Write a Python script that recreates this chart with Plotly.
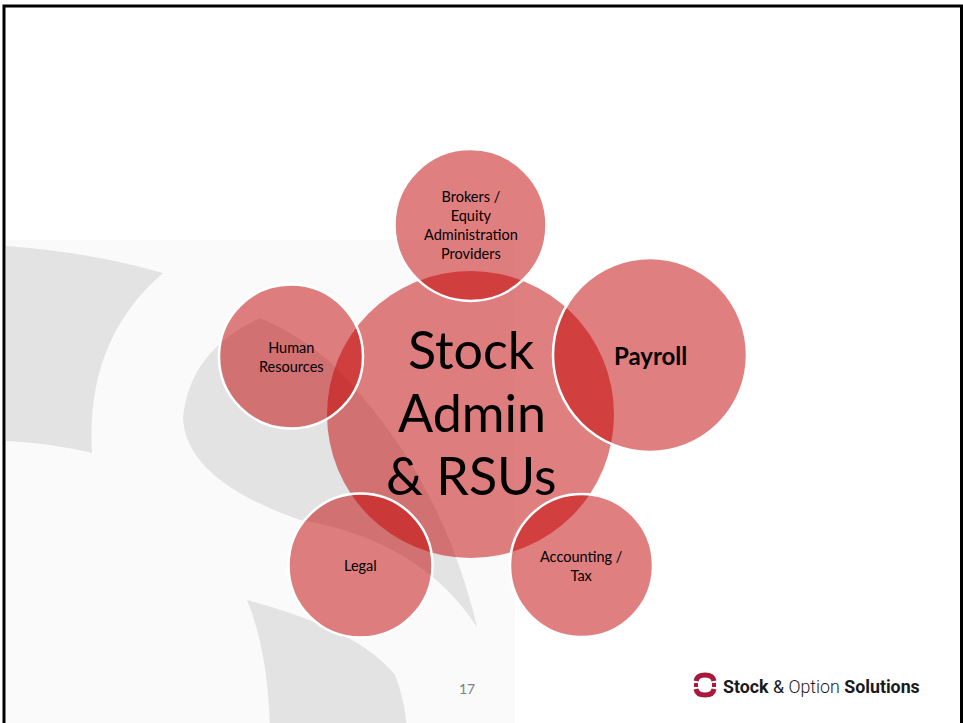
import plotly.graph_objects as go

# ---- diagram content ----
center_lines = ["Stock", "Admin", "& RSUs"]
center_pos = (470.5, 414.5)
center_r = 143.5

node_labels = ["Brokers /<br>Equity<br>Administration<br>Providers",
               "<b>Payroll</b>",
               "Accounting /<br>Tax",
               "Legal",
               "Human<br>Resources"]
node_x = [470.5, 650.0, 581.5, 360.5, 291.0]
node_y = [225.0, 355.0, 565.5, 565.5, 356.5]
node_r = [76.0, 97.0, 71.5, 72.0, 72.0]
node_font = [14.5, 24, 14.5, 14.5, 14.5]

page_number = "17"

W, H = 963, 723
FILL = "rgba(193,0,0,0.5)"
BG_LIGHT = "#fafafa"
BG_GRAY = "#e3e3e3"

shapes = []
# light background panel
shapes.append(dict(type="rect", x0=6, y0=240, x1=515, y1=H + 5,
                   fillcolor=BG_LIGHT, line=dict(width=0), layer="below"))
# gray decorative swirl shapes
paths = [
    # top-left arc
    "M 6 246 Q 90 252 163 273 Q 85 340 92 453 Q 50 443 6 441 Z",
    # middle horn
    "M 260 318 Q 300 335 330 362 Q 440 470 477 627 "
    "Q 420 540 300 520 Q 185 480 183 417 Q 190 350 260 318 Z",
    # bottom piece
    "M 247 600 Q 360 630 395 675 Q 405 700 407 730 L 270 730 "
    "Q 268 650 247 600 Z",
]
for p in paths:
    shapes.append(dict(type="path", path=p, fillcolor=BG_GRAY,
                       line=dict(width=0), layer="below"))

# central circle
cx, cy = center_pos
shapes.append(dict(type="circle", x0=cx - center_r, x1=cx + center_r,
                   y0=cy - center_r, y1=cy + center_r,
                   fillcolor=FILL, line=dict(width=0), layer="above"))
# satellites
for x, y, r in zip(node_x, node_y, node_r):
    shapes.append(dict(type="circle", x0=x - r, x1=x + r, y0=y - r, y1=y + r,
                       fillcolor=FILL, line=dict(color="white", width=2.5),
                       layer="above"))

# logo icon (ring segments)
lx, ly, lr = 705, 685, 10
shapes.append(dict(type="path",
                   path=f"M {lx-lr+1} {ly-4} Q {lx-lr+2} {ly-lr} {lx} {ly-lr} "
                        f"Q {lx+lr-2} {ly-lr} {lx+lr-1} {ly-4}",
                   line=dict(color="#a8193c", width=5), layer="above"))
shapes.append(dict(type="path",
                   path=f"M {lx-lr+1} {ly+4} Q {lx-lr+2} {ly+lr} {lx} {ly+lr} "
                        f"Q {lx+lr-2} {ly+lr} {lx+lr-1} {ly+4}",
                   line=dict(color="#a8193c", width=5), layer="above"))
for dx in (-lr + 1, lr - 1):
    shapes.append(dict(type="rect", x0=lx + dx - 2, x1=lx + dx + 2,
                       y0=ly - 2, y1=ly + 2, fillcolor="#a8193c",
                       line=dict(width=0), layer="above"))

# slide frame
shapes.append(dict(type="rect", x0=4, y0=6, x1=961.5, y1=H + 10,
                   fillcolor="rgba(0,0,0,0)", line=dict(color="black", width=3),
                   layer="above"))

annotations = []
line_gap = 63
for i, t in enumerate(center_lines):
    annotations.append(dict(x=cx + 1, y=cy - 66 + i * line_gap, text=t, showarrow=False,
                            font=dict(family="Lato, sans-serif", size=52, color="black"),
                            xanchor="center", yanchor="middle"))
for lab, x, y, fs in zip(node_labels, node_x, node_y, node_font):
    annotations.append(dict(x=x, y=y, text=lab, showarrow=False,
                            font=dict(family="Lato, sans-serif", size=fs, color="black"),
                            align="center", xanchor="center", yanchor="middle"))
annotations.append(dict(x=467, y=688, text=page_number, showarrow=False,
                        font=dict(family="Lato, sans-serif", size=14, color="#7f7f7f"),
                        xanchor="center", yanchor="middle"))
annotations.append(dict(x=721, y=686,
                        text="<b>Stock</b> &amp; <span style='font-weight:300'>Option</span> <b>Solutions</b>",
                        showarrow=False,
                        font=dict(family="Roboto, Arial, sans-serif", size=17.8, color="#1a1a1a"),
                        xanchor="left", yanchor="middle"))

fig = go.Figure()
fig.update_layout(
    width=W, height=H,
    margin=dict(l=0, r=0, t=0, b=0),
    paper_bgcolor="white", plot_bgcolor="white",
    xaxis=dict(range=[0, W], visible=False, fixedrange=True),
    yaxis=dict(range=[H, 0], visible=False, fixedrange=True),
    shapes=shapes, annotations=annotations, showlegend=False,
)
fig.write_html("out.html", config={"displayModeBar": False},
               post_script="document.body.style.margin='0';document.body.style.overflow='hidden';")
